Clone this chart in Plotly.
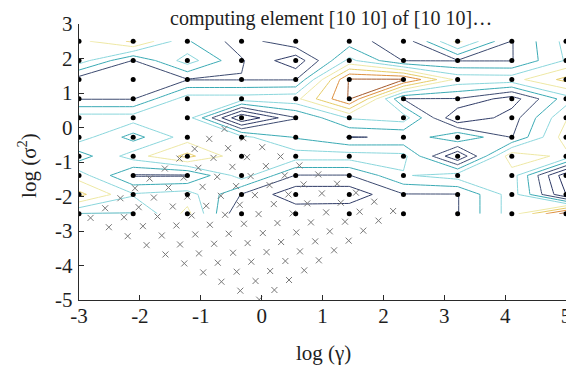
import plotly.graph_objects as go

# grid of the search (log gamma, log sigma^2)
log_gamma = [-3.0, -2.11, -1.22, -0.33, 0.56, 1.44, 2.33, 3.22, 4.11, 5.0]
log_sigma2 = [-2.5, -1.94, -1.39, -0.83, -0.28, 0.28, 0.83, 1.39, 1.94, 2.5]

# cost surface, rows listed from top (log sigma^2 = 2.5) to bottom (-2.5)
cost_top_down = [
    [6.2, 7.7, 4.6, 3.0, 4.3, 4.0, 2.8, 6.8, 3.45, 5.8],
    [6.0, 3.45, 6.0, 3.6, 1.8, 5.8, 3.45, 3.45, 3.45, 5.6],
    [3.0, 3.0, 3.45, 3.45, 3.45, 9.6, 9.6, 6.2, 6.1, 7.8],
    [3.45, 3.45, 6.0, 6.0, 6.2, 9.6, 3.45, 3.45, 2.0, 5.0],
    [6.0, 6.0, 6.0, 0.5, 3.45, 5.6, 6.0, 1.5, 3.0, 6.4],
    [6.0, 4.1, 6.0, 5.8, 4.4, 3.45, 3.6, 5.45, 3.45, 7.0],
    [4.0, 6.0, 7.8, 5.8, 6.0, 6.0, 5.8, 1.5, 7.2, 6.2],
    [6.0, 3.4, 3.4, 6.0, 3.45, 3.45, 5.4, 6.0, 6.0, 0.8],
    [7.8, 5.6, 6.0, 3.45, 1.8, 1.8, 3.45, 3.45, 6.0, 1.5],
    [4.45, 4.45, 6.8, 2.5, 3.2, 3.3, 3.4, 3.45, 6.0, 10.0],
]
cost = cost_top_down[::-1]

# previously evaluated points (grey crosses)
cross_x = [
    -2.81, -2.57, -2.32, -2.08, -1.84, -1.59, -1.35, -1.10, -0.86, -0.61,
    -2.51, -2.26, -2.02, -1.77, -1.53, -1.28, -1.04, -0.79, -0.55, -0.30,
    -2.20, -1.95, -1.71, -1.46, -1.22, -0.97, -0.73, -0.48, -0.24, 0.01,
    -1.89, -1.64, -1.40, -1.15, -0.91, -0.67, -0.42, -0.18, 0.07, 0.31,
    -1.58, -1.34, -1.09, -0.85, -0.60, -0.36, -0.11, 0.13, 0.38, 0.62,
    -1.27, -1.03, -0.78, -0.54, -0.29, -0.05, 0.20, 0.44, 0.69, 0.93,
    -0.96, -0.72, -0.47, -0.23, 0.02, 0.26, 0.51, 0.75, 0.99, 1.24,
    -0.66, -0.41, -0.17, 0.08, 0.32, 0.57, 0.81, 1.06, 1.30, 1.55,
    -0.35, -0.10, 0.14, 0.39, 0.63, 0.88, 1.12, 1.37, 1.61, 1.85,
    -0.04, 0.21, 0.45, 0.70, 0.94, 1.19, 1.43, 1.67, 1.92, 2.16,
]
cross_y = [
    -2.62, -2.34, -2.05, -1.76, -1.48, -1.19, -0.90, -0.62, -0.33, -0.04,
    -2.89, -2.60, -2.31, -2.03, -1.74, -1.45, -1.17, -0.88, -0.60, -0.31,
    -3.15, -2.86, -2.58, -2.29, -2.00, -1.72, -1.43, -1.14, -0.86, -0.57,
    -3.41, -3.13, -2.84, -2.55, -2.27, -1.98, -1.70, -1.41, -1.12, -0.84,
    -3.68, -3.39, -3.10, -2.82, -2.53, -2.24, -1.96, -1.67, -1.39, -1.10,
    -3.94, -3.65, -3.37, -3.08, -2.79, -2.51, -2.22, -1.94, -1.65, -1.36,
    -4.20, -3.92, -3.63, -3.35, -3.06, -2.77, -2.49, -2.20, -1.91, -1.63,
    -4.47, -4.18, -3.89, -3.61, -3.32, -3.04, -2.75, -2.46, -2.18, -1.89,
    -4.73, -4.45, -4.16, -3.87, -3.59, -3.30, -3.01, -2.73, -2.44, -2.15,
    -4.99, -4.71, -4.42, -4.14, -3.85, -3.56, -3.28, -2.99, -2.70, -2.42,
]

x_ticks = [-3, -2, -1, 0, 1, 2, 3, 4, 5]
x_tick_text = ["-3", "-2", "-1", "0", "1", "2", "3", "4", "5"]
y_ticks = [-5, -4, -3, -2, -1, 0, 1, 2, 3]
y_tick_text = ["-5", "-4", "-3", "-2", "-1", "0", "1", "2", "3"]

level_colors = ["#141c4c", "#222c5c", "#2e3a66", "#3c4a70", "#3aaab4",
                "#8ad6dc", "#eee8a4", "#e6cc66", "#dd8f3e", "#a4582a"]
colorscale = [[k / 9, c] for k, c in enumerate(level_colors)]

SERIF = "Liberation Serif, Times New Roman, serif"
TXT = "#1e1e1e"

fig = go.Figure()
fig.add_trace(go.Contour(
    x=log_gamma, y=log_sigma2, z=cost,
    contours=dict(coloring="lines", start=0.5, end=9.5, size=1),
    line=dict(width=1, smoothing=0),
    colorscale=colorscale, showscale=False, hoverinfo="skip",
))
fig.add_trace(go.Scatter(
    x=cross_x, y=cross_y, mode="markers",
    marker=dict(symbol="x-thin", size=6, line=dict(width=1, color="#787878")),
    hoverinfo="skip",
))
node_x = [g for s in log_sigma2 for g in log_gamma]
node_y = [s for s in log_sigma2 for g in log_gamma]
fig.add_trace(go.Scatter(
    x=node_x, y=node_y, mode="markers",
    marker=dict(symbol="circle", size=5, color="#000000"),
    hoverinfo="skip",
))

axis_common = dict(
    showgrid=False, zeroline=False, showline=True, linecolor="#2a2a2a",
    linewidth=1.4, ticks="inside", ticklen=5, tickwidth=1.3, tickcolor="#2a2a2a",
    tickfont=dict(family=SERIF, size=21, color=TXT), automargin=False,
    ticklabeloverflow="allow",
)
fig.update_layout(
    width=566, height=365, template="none",
    margin=dict(l=79, r=0, t=24, b=65),
    paper_bgcolor="white", plot_bgcolor="white", showlegend=False,
    xaxis=dict(range=[-3, 5], tickvals=x_ticks, ticktext=x_tick_text,
               ticklabelstandoff=-3, **axis_common),
    yaxis=dict(range=[-5, 3], tickvals=y_ticks, ticktext=y_tick_text,
               ticklabelstandoff=1, **axis_common),
    annotations=[
        dict(text="computing element [10 10] of [10 10]\u2026", xref="paper", yref="paper",
             x=0.517, y=1.02, xanchor="center", yanchor="middle", showarrow=False,
             font=dict(family=SERIF, size=20, color=TXT)),
        dict(text="log (\u03b3)", xref="paper", yref="paper", x=0.503, y=-0.192,
             xanchor="center", yanchor="middle", showarrow=False,
             font=dict(family=SERIF, size=21, color=TXT)),
        dict(text="log (\u03c3<sup>2</sup>)", xref="paper", yref="paper", x=-0.107, y=0.489,
             xanchor="center", yanchor="middle", showarrow=False, textangle=-90,
             font=dict(family=SERIF, size=21, color=TXT)),
    ],
)
fig.write_html("out.html")
